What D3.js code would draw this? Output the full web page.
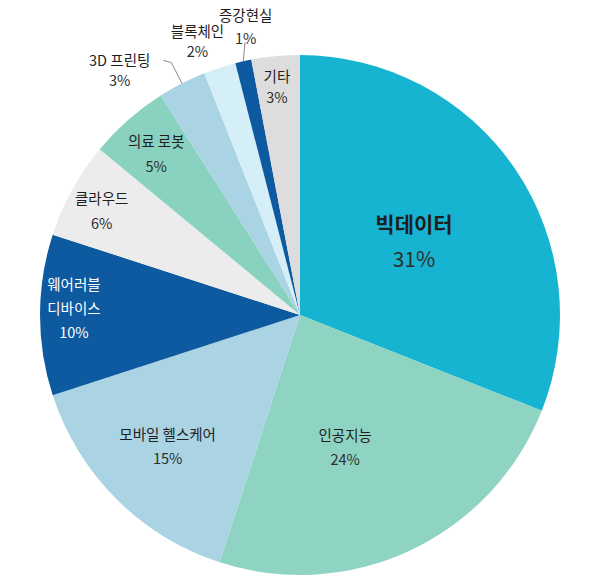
<!DOCTYPE html>
<html>
<head>
<meta charset="utf-8">
<script src="https://cdn.jsdelivr.net/npm/d3@7"></script>
<style>
  html, body { margin: 0; padding: 0; background: #fff; }
  svg { display: block; }
  .name { font-family: "Noto Sans CJK KR", "Noto Sans", sans-serif; fill: #1e1e1e; text-anchor: middle; }
  .pct { font-family: "Noto Sans CJK KR", "Noto Sans", sans-serif; fill: #2e2e2e; text-anchor: middle; }
  .leader { fill: none; stroke: #8a8a8a; stroke-width: 1px; }
</style>
</head>
<body>
<div id="chart"></div>
<script>
// data, clockwise from 12 o'clock
const categories = ["빅데이터", "인공지능", "모바일 헬스케어", "웨어러블 디바이스", "클라우드",
  "의료 로봇", "3D 프린팅", "블록체인", "증강현실", "기타"];
const shares = [31, 24, 15, 10, 6, 5, 3, 2, 1, 3];
const colors = ["#17b4d2", "#8fd4c2", "#aad3e4", "#0e5aa0", "#ececec",
  "#8ad2c0", "#aad3e4", "#d5eff9", "#0e5aa0", "#dddddd"];

const width = 600;
const height = 582;
const cx = 300;
const cy = 315;
const radius = 260;

// label placement: radius factor, angle nudge (deg), line gap, how the name wraps
const labelLayout = {
  "빅데이터": { r: 0.52, da: 1.7, gap: 35, size: 21, bold: true },
  "인공지능": { r: 0.54, da: 6.4, gap: 24 },
  "모바일 헬스케어": { r: 0.72, da: 0, gap: 24 },
  "웨어러블 디바이스": { r: 0.87, da: 1.5, gap: 24, lines: ["웨어러블", "디바이스"], fill: "#fff" },
  "클라우드": { r: 0.86, da: -1.3, gap: 25 },
  "의료 로봇": { r: 0.83, da: -0.4, gap: 25 },
  "3D 프린팅": { r: 1.166, da: -9.5, gap: 20, leader: [1.0, 1.09, -8] },
  "블록체인": { r: 1.12, da: -2.6, gap: 20 },
  "증강현실": { r: 1.124, da: 1.9, gap: 23, leader: [1.0, 1.07, 0], leaderDa: 1.2 },
  "기타": { r: 0.88, da: -0.4, gap: 21 }
};

const rows = categories.map((c, i) => ({ name: c, value: shares[i], color: colors[i] }));

const svg = d3.select("#chart")
  .append("svg")
  .attr("width", width)
  .attr("height", height);

const g = svg.append("g").attr("transform", `translate(${cx},${cy})`);

const pie = d3.pie().value((d) => d.value).sort(null).startAngle(0).endAngle(2 * Math.PI);
const arc = d3.arc().innerRadius(0).outerRadius(radius);
const arcs = pie(rows);

g.selectAll(".slice")
  .data(arcs)
  .enter()
  .append("path")
  .attr("class", "slice")
  .attr("d", arc)
  .attr("fill", (d) => d.data.color);

const polar = (ang, r) => [Math.sin(ang) * r, -Math.cos(ang) * r];
const toRad = (deg) => (deg * Math.PI) / 180;

// leader lines for the small outside labels
arcs.forEach((d) => {
  const lay = labelLayout[d.data.name];
  if (!lay.leader) return;
  const mid = (d.startAngle + d.endAngle) / 2;
  const [r0, r1, tail] = lay.leader;
  const p0 = polar(mid, radius * r0);
  const p1 = polar(mid + toRad(lay.leaderDa || 0), radius * r1);
  const pts = [p0, p1];
  if (tail) pts.push([p1[0] + tail, p1[1] - 2]);
  g.append("path")
    .attr("class", "leader")
    .attr("d", d3.line()(pts));
});

const labels = g.selectAll(".label")
  .data(arcs)
  .enter()
  .append("g")
  .attr("class", "label")
  .attr("transform", (d) => {
    const lay = labelLayout[d.data.name];
    const mid = (d.startAngle + d.endAngle) / 2 + toRad(lay.da);
    const [x, y] = polar(mid, radius * lay.r);
    return `translate(${x.toFixed(1)},${y.toFixed(1)})`;
  });

labels.each(function (d) {
  const lay = labelLayout[d.data.name];
  const el = d3.select(this);
  const lines = lay.lines || [d.data.name];
  const all = lines.concat([d.data.value + "%"]);
  const size = lay.size || 14.5;
  const top = -((all.length - 1) * lay.gap) / 2;
  all.forEach((txt, i) => {
    const isPct = i === all.length - 1;
    el.append("text")
      .attr("class", isPct ? "pct" : "name")
      .attr("y", top + i * lay.gap)
      .attr("dy", "0.35em")
      .attr("font-size", size)
      .attr("font-weight", lay.bold && !isPct ? 700 : 400)
      .style("fill", lay.fill || null)
      .text(txt);
  });
});
</script>
</body>
</html>
